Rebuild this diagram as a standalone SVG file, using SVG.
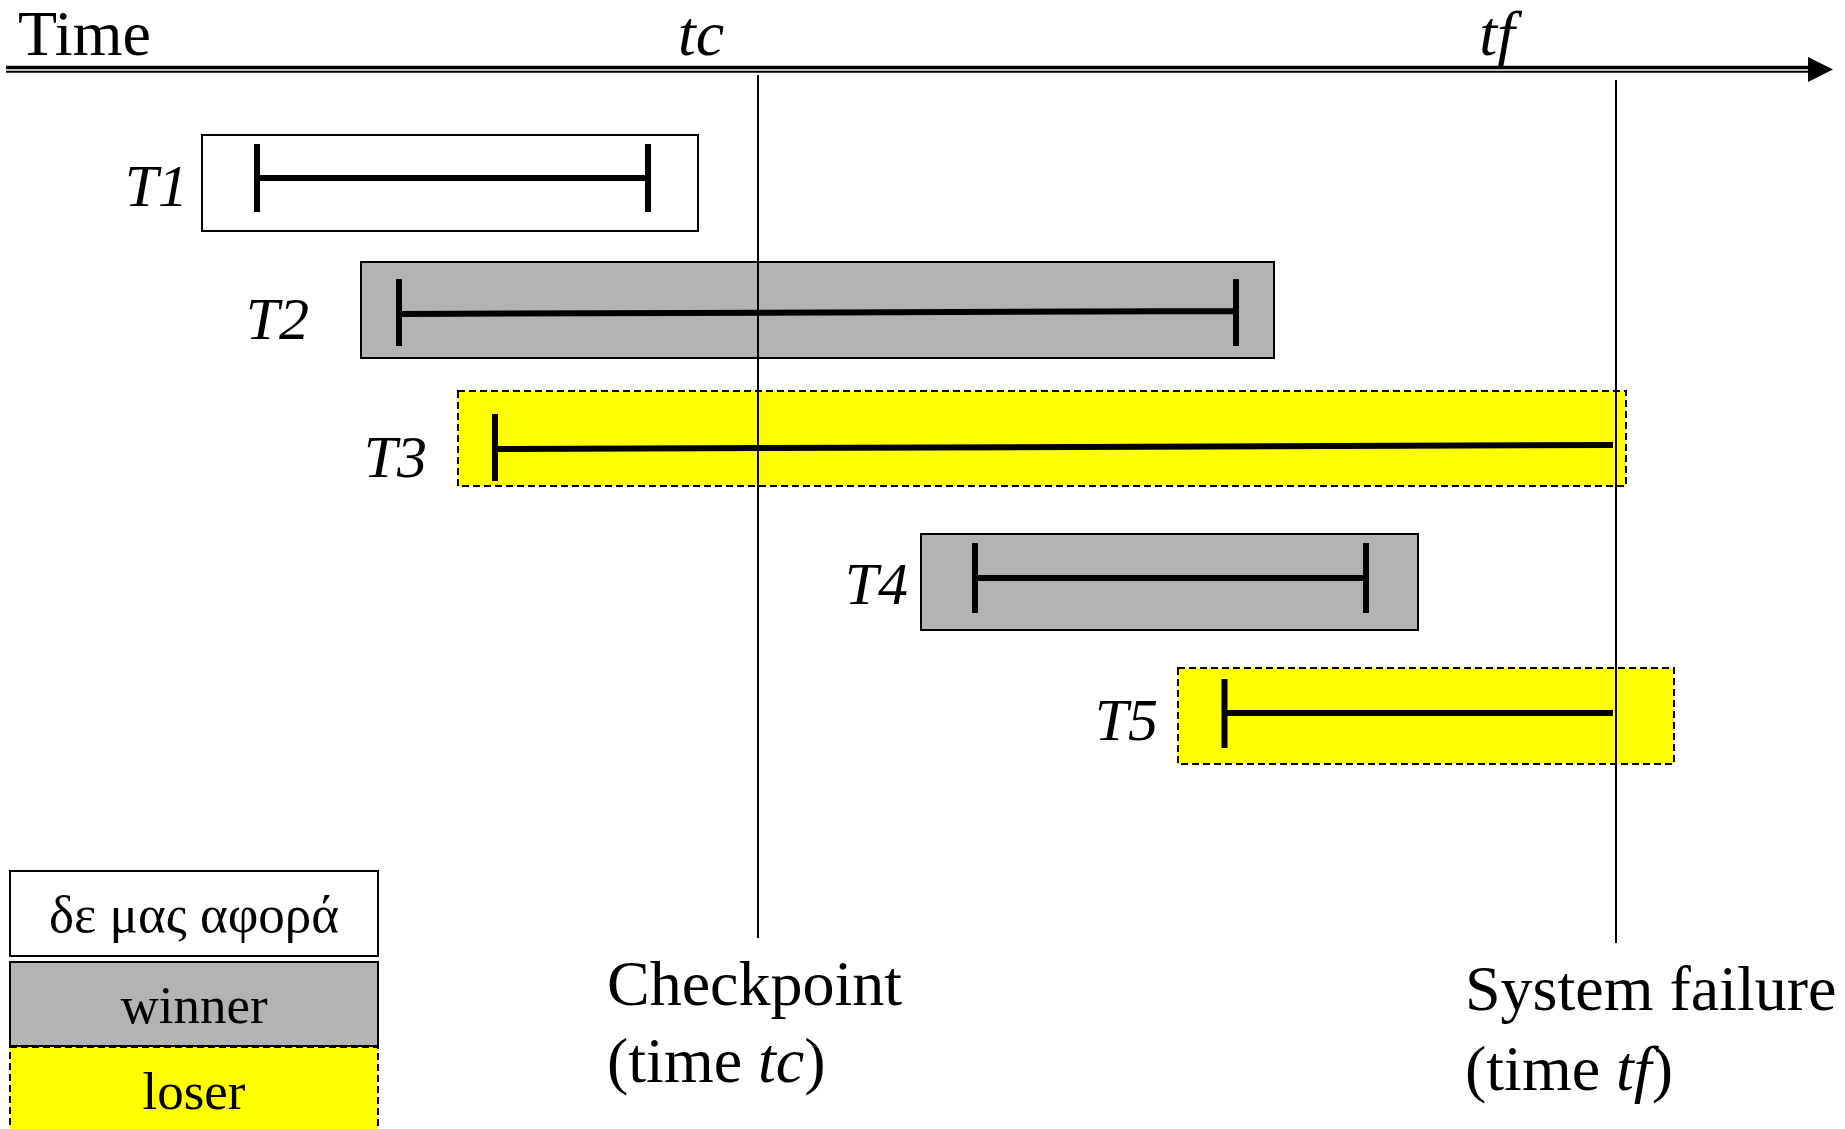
<svg xmlns="http://www.w3.org/2000/svg" width="1845" height="1129" viewBox="0 0 1845 1129">
  <style>
    text { font-family: "Liberation Serif", "Times New Roman", serif; fill: #000; }
    .big { font-size: 64px; }
    .lbl { font-size: 60px; font-style: italic; }
    .leg { font-size: 53px; }
    .it { font-style: italic; }
    .plain { fill: #ffffff; stroke: #000; stroke-width: 2; }
    .winner { fill: #b3b3b3; stroke: #000; stroke-width: 2; }
    .loser { fill: #ffff00; stroke: #000; stroke-width: 2; stroke-dasharray: 7 4; }
    .bar { stroke: #000; stroke-width: 6; fill: none; }
    .mark { stroke: #000; stroke-width: 2; fill: none; }
  </style>

  <rect width="1845" height="1129" fill="#ffffff"/>

  <!-- time axis: double rule with arrowhead -->
  <g id="axis">
    <line x1="6" y1="67.5" x2="1812" y2="67.5" stroke="#000" stroke-width="3.4"/>
    <line x1="6" y1="71.8" x2="1812" y2="71.8" stroke="#000" stroke-width="2"/>
    <polygon points="1808,57 1833,69.5 1808,82" fill="#000"/>
    <text class="big" x="18" y="55" font-size="63">Time</text>
    <text class="big it" x="701" y="55" text-anchor="middle" font-size="62">tc</text>
    <text class="big it" x="1497" y="55" text-anchor="middle" font-size="62">tf</text>
  </g>

  <!-- transactions -->
  <g id="T1">
    <rect class="plain" x="202" y="135" width="496" height="96"/>
    <text class="lbl" x="188" y="206" text-anchor="end">T1</text>
    <path class="bar" d="M257 144V212M257 178H648M648 144V212"/>
  </g>

  <g id="T2">
    <rect class="winner" x="361" y="262" width="913" height="96"/>
    <text class="lbl" x="309" y="339" text-anchor="end">T2</text>
  </g>

  <g id="T3">
    <rect class="loser" x="458" y="391" width="1168" height="95"/>
    <text class="lbl" x="427" y="477" text-anchor="end">T3</text>
  </g>

  <g id="T4">
    <rect class="winner" x="921" y="534" width="497" height="96"/>
    <text class="lbl" x="908" y="604" text-anchor="end">T4</text>
  </g>

  <g id="T5">
    <rect class="loser" x="1178" y="668" width="496" height="96"/>
    <text class="lbl" x="1158" y="740" text-anchor="end">T5</text>
  </g>

  <!-- checkpoint and failure markers, then the transaction spans on top -->
  <g id="connectors">
    <line class="mark" x1="758" y1="75" x2="758" y2="938"/>
    <line class="mark" x1="1616" y1="80" x2="1616" y2="943"/>
    <path class="bar" d="M399 279V346M399 314L1236 311M1236 279V346"/>
    <path class="bar" d="M495 414V481M495 449L1613 445"/>
    <path class="bar" d="M975 543V613M975 578H1366M1366 543V613"/>
    <path class="bar" d="M1224.5 679V748M1224.5 713H1613"/>
  </g>

  <g id="checkpoint">
    <text class="big" x="607" y="1005">Checkpoint</text>
    <text class="big" x="607" y="1082">(time <tspan class="it">tc</tspan>)</text>
  </g>

  <g id="failure">
    <text class="big" x="1465" y="1010">System failure</text>
    <text class="big" x="1465" y="1090">(time <tspan class="it">tf</tspan>)</text>
  </g>

  <!-- legend -->
  <g id="legend-none">
    <rect class="plain" x="10" y="871" width="368" height="85"/>
    <text class="leg" x="194" y="932" text-anchor="middle">δε μας αφορά</text>
  </g>
  <g id="legend-winner">
    <rect class="winner" x="10" y="962" width="368" height="84"/>
    <text class="leg" x="194" y="1023" text-anchor="middle">winner</text>
  </g>
  <g id="legend-loser">
    <rect class="loser" x="10" y="1047" width="368" height="100"/>
    <text class="leg" x="194" y="1109" text-anchor="middle">loser</text>
  </g>
</svg>
